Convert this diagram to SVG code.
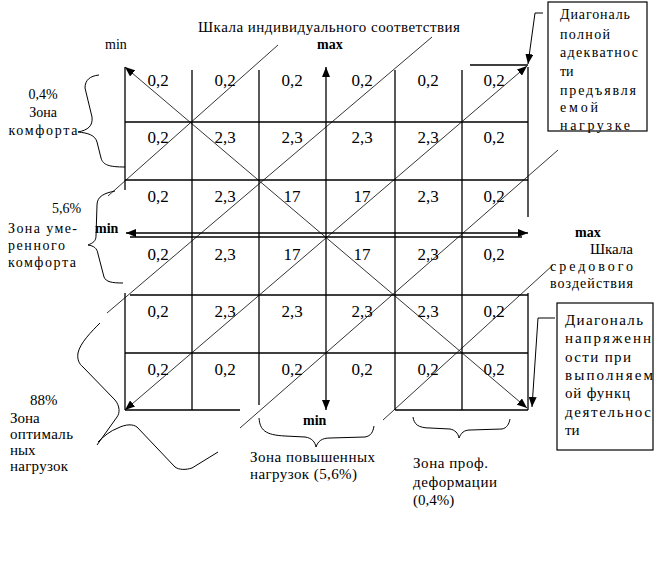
<svg xmlns="http://www.w3.org/2000/svg" width="654" height="562" viewBox="0 0 654 562" font-family="'Liberation Serif', 'Times New Roman', 'DejaVu Serif', serif">
<style>
text{font-family:'Liberation Serif','Times New Roman','DejaVu Serif',serif;fill:#000}
.s14{font-size:14px}
.s15{font-size:15px}
.n{font-size:17px;text-anchor:middle}
.b{font-weight:bold;font-size:14px}
.g{stroke:#000;stroke-width:1.3;fill:none}
.d{stroke:#000;stroke-width:0.8;fill:none}
.br{stroke:#000;stroke-width:1;fill:none}
.box{stroke:#000;stroke-width:1.2;fill:#fff}
</style>
<defs>
<marker id="ah" viewBox="0 0 10 8" refX="10" refY="4" markerWidth="10" markerHeight="8" markerUnits="userSpaceOnUse" orient="auto-start-reverse">
<path d="M0,0 L10,4 L0,8 Z" fill="#000"/>
</marker>
</defs>
<rect width="654" height="562" fill="#fff"/>

<g id="connectors">
<path class="g" d="M125 67 V190 M125 293 V410 M192 70 V410 M259 70 V405 M395 70 V410 M462 70 V410 M528 67 V217 M528 293 V410"/>
<path class="g" d="M125 122 H528 M125 180 H528 M130 237 H522 M130 295 H528 M125 353 H528 M125 410 H240 M395 410 H528 M470 65 H528"/>
<line class="g" x1="326" y1="410" x2="326" y2="67" marker-end="url(#ah)" marker-start="url(#ah)"/>
<line class="g" x1="126" y1="233" x2="528" y2="233" marker-end="url(#ah)" marker-start="url(#ah)"/>
<line class="d" x1="125" y1="410" x2="527" y2="66" marker-end="url(#ah)" marker-start="url(#ah)"/>
<line class="d" x1="125" y1="67" x2="527" y2="408" marker-end="url(#ah)" marker-start="url(#ah)"/>
<path class="d" d="M108 196 L278 45 M107 313 L432 37 M240 428 L558 150 M383 420 L553 265"/>
<polyline class="br" points="543,13 535,13 528,64" marker-end="url(#ah)"/>
<polyline class="br" points="555,318 538,318 532,407" marker-end="url(#ah)"/>
<path class="br" d="M99 75 C90 76 85 80 85 88 L92 117 C93 126 88 130 78 132 C88 133 95 135 97 142 L101 158 C103 165 109 167 125 167"/>
<path class="br" d="M115 191 C105 193 97 196 97 205 L96 236 C96 241 93 243 88 245 C94 246 97 248 98 254 L104 277 C106 282 112 283 123 283"/>
<path class="br" d="M100 323 C92 331 80 343 78 353 C77 359 79 364 83 367 L115 400 C120 406 120 413 117 417 L97 445 M98 442 C104 436 110 431 118 428 C126 424 133 424 137 427 L175 467 C179 470 186 470 192 468 L218 452"/>
<path class="br" d="M259 418 C260 430 265 435 285 436 L305 437 C312 438 315 442 316 447 C318 441 322 438 330 438 L365 437 C371 436 373 432 374 426"/>
<path class="br" d="M413 417 C414 424 418 428 430 428 L450 429 C455 430 458 433 459 438 C461 433 464 430 470 430 L502 429 C507 428 509 424 510 419"/>
</g>

<g id="title">
<text class="s15" x="198" y="32" textLength="262" lengthAdjust="spacing">Шкала индивидуального соответствия</text>
<text class="s14" x="105" y="49">min</text>
<text class="b" x="317" y="49">max</text>
</g>

<g id="cells">
<g class="n">
<text x="158" y="86">0,2</text><text x="225" y="86">0,2</text><text x="292" y="86">0,2</text><text x="362" y="86">0,2</text><text x="428" y="86">0,2</text><text x="494" y="86">0,2</text>
<text x="158" y="143">0,2</text><text x="225" y="143">2,3</text><text x="292" y="143">2,3</text><text x="362" y="143">2,3</text><text x="428" y="143">2,3</text><text x="494" y="143">0,2</text>
<text x="158" y="202">0,2</text><text x="225" y="202">2,3</text><text x="292" y="202">17</text><text x="362" y="202">17</text><text x="428" y="202">2,3</text><text x="494" y="202">0,2</text>
<text x="158" y="260">0,2</text><text x="225" y="260">2,3</text><text x="292" y="260">17</text><text x="362" y="260">17</text><text x="428" y="260">2,3</text><text x="494" y="260">0,2</text>
<text x="158" y="317">0,2</text><text x="225" y="317">2,3</text><text x="292" y="317">2,3</text><text x="362" y="317">2,3</text><text x="428" y="317">2,3</text><text x="494" y="317">0,2</text>
<text x="158" y="375">0,2</text><text x="225" y="375">0,2</text><text x="292" y="375">0,2</text><text x="362" y="375">0,2</text><text x="428" y="375">0,2</text><text x="494" y="375">0,2</text>
</g>
</g>

<g id="zone-comfort">
<text class="s14" x="43" y="99" text-anchor="middle">0,4%</text>
<text class="s14" x="43" y="117" text-anchor="middle">Зона</text>
<text class="s14" x="43" y="135" text-anchor="middle" textLength="69" lengthAdjust="spacing">комфорта</text>
</g>

<g id="zone-moderate">
<text class="s14" x="52" y="213">5,6%</text>
<text class="s14" x="8" y="233" textLength="69" lengthAdjust="spacing">Зона уме-</text>
<text class="s14" x="8" y="250" textLength="57" lengthAdjust="spacing">ренного</text>
<text class="s14" x="8" y="267" textLength="68" lengthAdjust="spacing">комфорта</text>
<text class="b" x="95" y="233">min</text>
</g>

<g id="zone-optimal">
<text class="s15" x="30" y="405">88%</text>
<text class="s15" x="10" y="423">Зона</text>
<text class="s15" x="10" y="439" textLength="63" lengthAdjust="spacing">оптималь</text>
<text class="s15" x="10" y="455">ных</text>
<text class="s15" x="10" y="471" textLength="58" lengthAdjust="spacing">нагрузок</text>
</g>

<g id="env-scale">
<text class="b" x="575" y="237">max</text>
<text class="s15" x="633" y="254" text-anchor="end">Шкала</text>
<text class="s14" x="633" y="271" text-anchor="end" textLength="83" lengthAdjust="spacing">средового</text>
<text class="s14" x="633" y="288" text-anchor="end" textLength="83" lengthAdjust="spacing">воздействия</text>
</g>

<g id="zone-high">
<text class="b" x="303" y="425">min</text>
<text class="s15" x="250" y="462" textLength="125" lengthAdjust="spacing">Зона повышенных</text>
<text class="s15" x="250" y="479" textLength="107" lengthAdjust="spacing">нагрузок (5,6%)</text>
</g>

<g id="zone-deform">
<text class="s15" x="413" y="468" textLength="75" lengthAdjust="spacing">Зона проф.</text>
<text class="s15" x="413" y="487" textLength="84" lengthAdjust="spacing">деформации</text>
<text class="s15" x="413" y="505">(0,4%)</text>
</g>

<g id="box-adequacy">
<rect class="box" x="548" y="2" width="99" height="129"/>
<g class="s14">
<text x="560" y="19" textLength="70" lengthAdjust="spacing">Диагональ</text>
<text x="560" y="39" textLength="50" lengthAdjust="spacing">полной</text>
<text x="560" y="57" textLength="78" lengthAdjust="spacing">адекватнос</text>
<text x="560" y="76">ти</text>
<text x="560" y="95" textLength="76" lengthAdjust="spacing">предъявля</text>
<text x="560" y="112" textLength="38" lengthAdjust="spacing">емой</text>
<text x="560" y="130" textLength="70" lengthAdjust="spacing">нагрузке</text>
</g>
</g>

<g id="box-tension">
<rect class="box" x="557" y="303" width="96" height="147"/>
<g class="s15">
<text x="565" y="325" textLength="78" lengthAdjust="spacing">Диагональ</text>
<text x="565" y="343" textLength="86" lengthAdjust="spacing">напряженн</text>
<text x="565" y="362" textLength="66" lengthAdjust="spacing">ости при</text>
<text x="565" y="380" textLength="88" lengthAdjust="spacing">выполняем</text>
<text x="565" y="398" textLength="65" lengthAdjust="spacing">ой функц</text>
<text x="565" y="417" textLength="86" lengthAdjust="spacing">деятельнос</text>
<text x="565" y="435">ти</text>
</g>
</g>
</svg>
